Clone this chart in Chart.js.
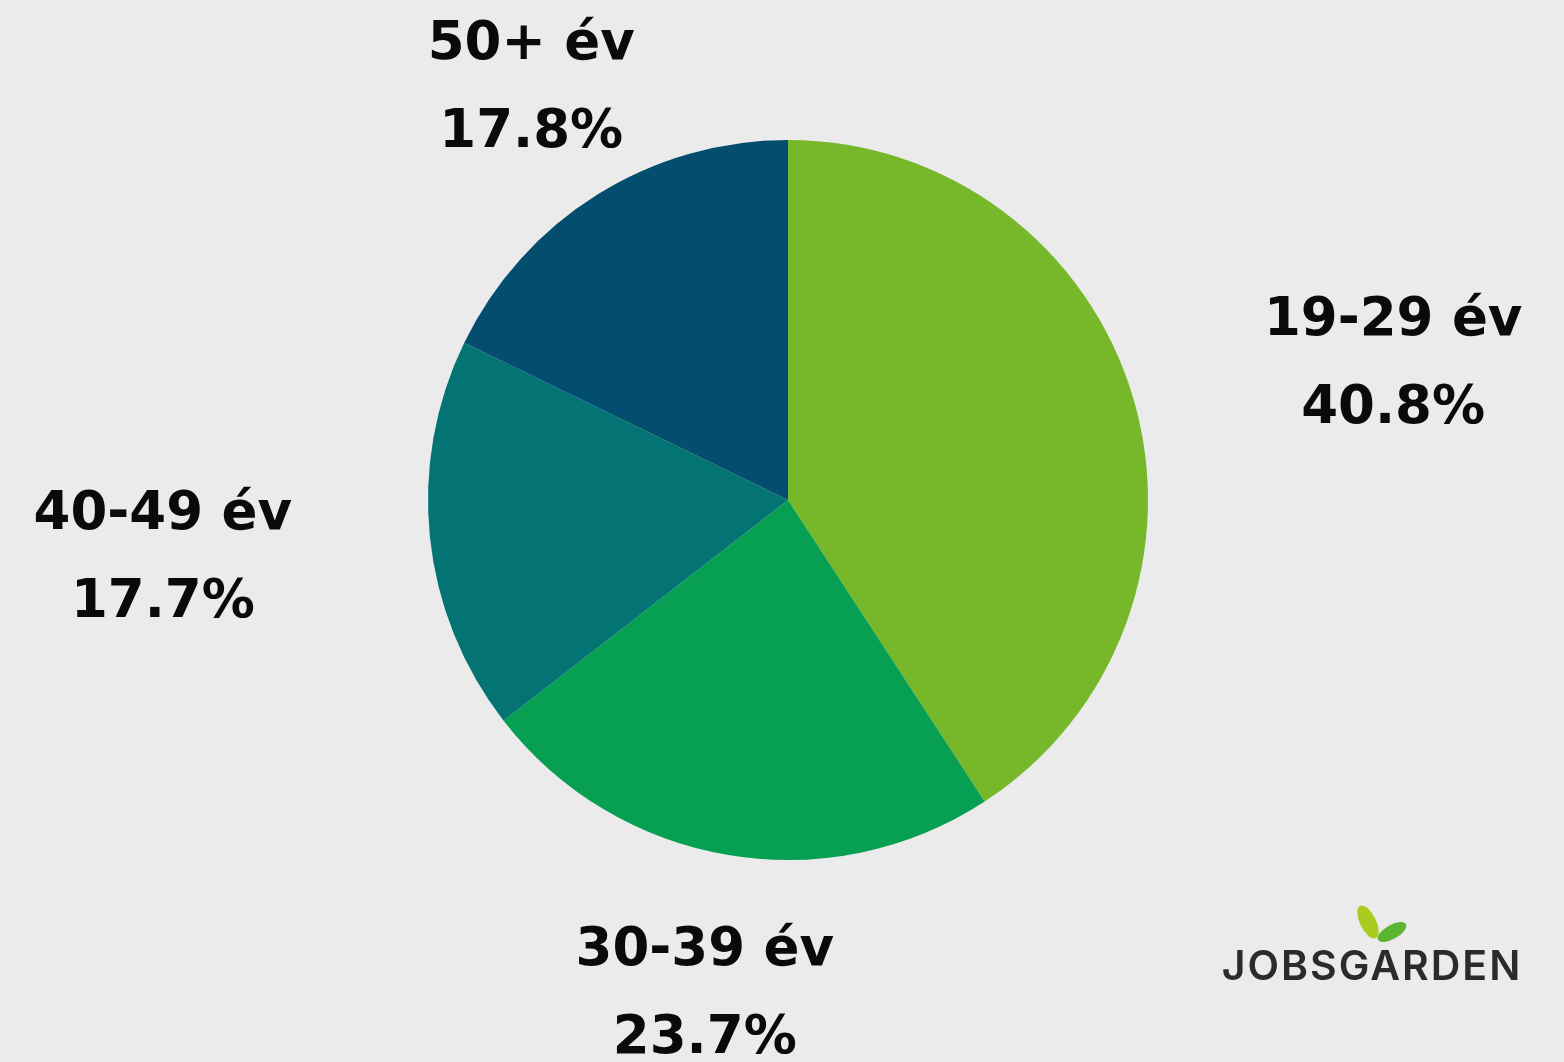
<!DOCTYPE html>
<html>
<head>
<meta charset="utf-8">
<script src="https://cdn.jsdelivr.net/npm/chart.js@4.4.0/dist/chart.umd.min.js"></script>
<style>
  html, body { margin: 0; padding: 0; background: #ebebeb; }
  #wrap { width: 1564px; height: 1062px; }
</style>
</head>
<body>
<div id="wrap"><canvas id="myChart" width="1564" height="1062"></canvas></div>
<script>
const ageGroups = ['19-29 év', '30-39 év', '40-49 év', '50+ év'];
const shares = [40.8, 23.7, 17.7, 17.8];
const sliceColors = ['#76b82a', '#07a052', '#037373', '#034d6e'];

// label placement: distance past the rim, and a small turn off the mid angle (degrees)
const labelGap = [260, 142, 268, 124];
const labelTurn = [4, 0, 0.5, 0];

const labelPlugin = {
    id: 'sliceLabels',
    afterDatasetsDraw(chart) {
        const ctx = chart.ctx;
        const arcs = chart.getDatasetMeta(0).data;
        ctx.save();
        ctx.fillStyle = '#0a0a0a';
        ctx.textAlign = 'center';
        ctx.textBaseline = 'middle';
        ctx.font = 'bold 53px "DejaVu Sans", sans-serif';
        arcs.forEach((arc, i) => {
            const mid = (arc.startAngle + arc.endAngle) / 2 + labelTurn[i] * Math.PI / 180;
            const d = arc.outerRadius + labelGap[i];
            const x = arc.x + Math.cos(mid) * d;
            const y = arc.y + Math.sin(mid) * d;
            ctx.fillText(ageGroups[i], x, y - 44);
            ctx.fillText(shares[i].toFixed(1) + '%', x, y + 44);
        });
        ctx.restore();
    }
};

const logoPlugin = {
    id: 'logo',
    afterDraw(chart) {
        const ctx = chart.ctx;
        ctx.save();
        // two leaves over the wordmark
        ctx.fillStyle = '#a9cc1e';
        ctx.beginPath();
        ctx.ellipse(1368, 922, 8, 18, -0.45, 0, Math.PI * 2);
        ctx.fill();
        ctx.fillStyle = '#5cb531';
        ctx.beginPath();
        ctx.ellipse(1392, 932, 7, 16, 1.05, 0, Math.PI * 2);
        ctx.fill();
        ctx.fillStyle = '#2b2b2b';
        ctx.textAlign = 'center';
        ctx.textBaseline = 'alphabetic';
        ctx.letterSpacing = '2px';
        ctx.font = '600 41px Inter, "Open Sans", sans-serif';
        ctx.fillText('JOBSGARDEN', 1372, 980);
        ctx.restore();
    }
};

new Chart(document.getElementById('myChart'), {
    type: 'pie',
    data: {
        labels: ageGroups,
        datasets: [{
            data: shares,
            backgroundColor: sliceColors,
            borderWidth: 0
        }]
    },
    options: {
        responsive: false,
        animation: false,
        layout: { padding: { left: 428, right: 416, top: 140, bottom: 202 } },
        plugins: {
            legend: { display: false },
            tooltip: { enabled: false }
        }
    },
    plugins: [labelPlugin, logoPlugin]
});
</script>
</body>
</html>
